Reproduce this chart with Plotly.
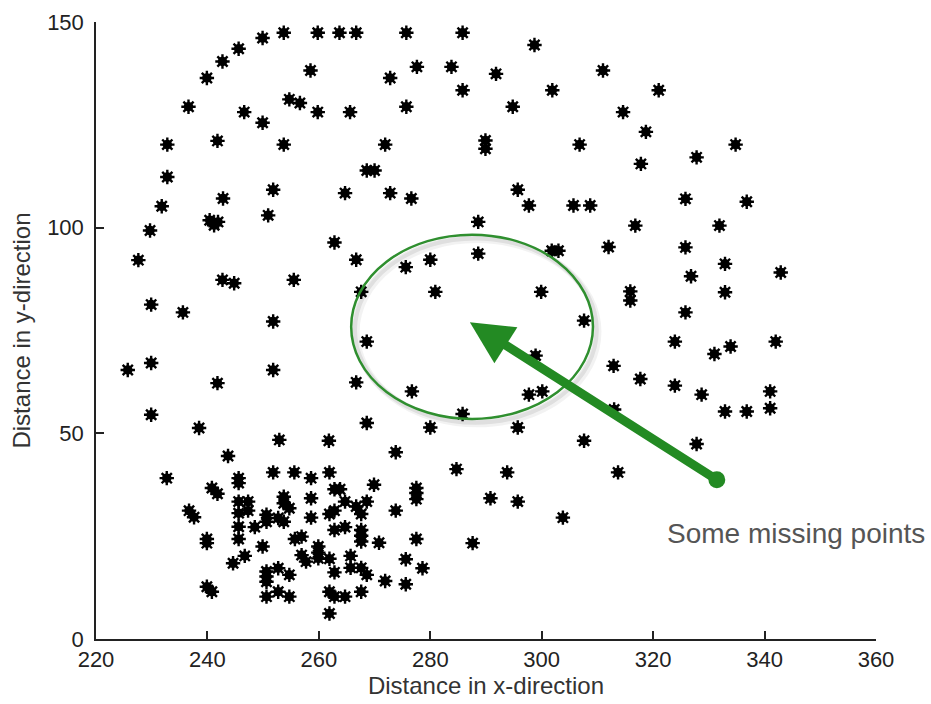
import plotly.graph_objects as go

# Sensor positions (x, y) in distance units
x_pos = [
    229.7, 231.8, 232.8, 232.8, 236.6, 239.9, 242.7, 245.6, 249.9, 253.7,
    259.8, 263.7, 266.7, 275.7, 285.8, 298.7, 258.5, 272.8, 277.6, 283.8,
    291.8, 285.8, 301.9, 311.0, 254.7, 256.6, 259.8, 246.6, 249.9, 265.6,
    275.7, 294.8, 314.6, 241.8, 253.7, 271.9, 289.9, 289.9, 306.8, 321.0,
    318.7, 317.8, 334.8, 327.8, 268.6, 270.0, 251.8, 242.8, 264.7, 272.8,
    276.6, 295.7, 297.7, 305.7, 308.7, 325.8, 336.8, 250.9, 288.6, 316.8,
    331.9, 240.4, 241.2, 241.9,
    262.8, 227.6, 242.7, 244.8, 255.5, 229.9, 235.6, 251.8, 225.7, 229.9,
    251.8, 241.8, 229.9, 238.5, 252.9, 243.7, 266.7, 275.6, 280.0, 288.6,
    301.8, 303.0, 312.0, 267.6, 280.9, 299.9, 307.6, 268.6, 298.9, 312.9,
    266.7, 276.7, 297.7, 300.1, 285.8, 268.6, 280.0, 295.7, 313.0, 261.8,
    273.8, 307.6, 325.8, 332.9, 326.8, 342.9, 315.9, 315.9, 332.9, 325.8,
    323.9, 331.0, 333.9, 342.0, 317.7, 323.9, 328.7, 341.0, 332.9, 336.8,
    341.0, 327.8,
    284.7, 293.8, 313.7, 290.8, 295.7, 303.8, 287.6, 258.6, 261.9, 258.6,
    258.6, 262.8, 263.8, 269.9, 264.7, 268.6, 266.7, 267.6, 261.9, 262.8,
    277.5, 277.5, 277.5, 273.8, 262.8, 264.7, 267.6, 267.6, 267.6, 270.8,
    277.5, 256.9, 255.7, 259.9, 259.9, 259.9, 256.9, 257.7, 261.9, 265.7,
    265.7, 262.8, 267.6, 268.6, 271.9, 275.6, 278.6, 275.6, 261.9, 262.8,
    264.7, 267.6, 261.9, 232.7, 251.8, 255.6, 245.6, 245.6, 240.8, 241.8,
    245.6, 247.3, 247.3, 245.6, 253.7, 253.7, 254.7, 236.7, 237.6, 250.6,
    250.6, 252.7, 253.7, 245.6, 248.5, 245.6, 239.9, 239.9, 249.9, 246.7,
    244.6, 250.6, 250.6, 250.6, 252.7, 254.7, 239.9, 240.8, 250.6, 252.7,
    254.7,
]
y_pos = [
    99.3, 105.2, 112.3, 120.2, 129.4, 136.4, 140.4, 143.5, 146.1, 147.4,
    147.4, 147.4, 147.4, 147.4, 147.4, 144.4, 138.2, 136.4, 139.1, 139.1,
    137.4, 133.4, 133.4, 138.2, 131.2, 130.3, 128.1, 128.1, 125.5, 128.1,
    129.4, 129.4, 128.1, 121.1, 120.2, 120.2, 121.2, 119.2, 120.2, 133.4,
    123.3, 115.5, 120.2, 117.1, 113.9, 113.9, 109.2, 107.1, 108.4, 108.4,
    107.1, 109.2, 105.4, 105.4, 105.4, 107.0, 106.3, 103.0, 101.4, 100.5,
    100.5, 101.8, 100.6, 101.4,
    96.4, 92.1, 87.3, 86.5, 87.3, 81.3, 79.4, 77.2, 65.4, 67.1,
    65.4, 62.2, 54.5, 51.3, 48.4, 44.5, 92.2, 90.4, 92.2, 93.7,
    94.4, 94.4, 95.3, 84.4, 84.4, 84.4, 77.4, 72.3, 68.9, 66.4,
    62.4, 60.2, 59.4, 60.2, 54.7, 52.5, 51.4, 51.4, 55.8, 48.2,
    45.4, 48.2, 95.2, 91.2, 88.2, 89.1, 84.5, 82.3, 84.3, 79.4,
    72.3, 69.3, 71.1, 72.3, 63.2, 61.6, 59.4, 60.2, 55.3, 55.3,
    56.1, 47.4,
    41.3, 40.5, 40.5, 34.2, 33.4, 29.5, 23.3, 39.1, 40.5, 34.2,
    29.5, 36.4, 36.4, 37.5, 33.4, 33.4, 32.2, 30.4, 30.4, 31.2,
    36.7, 35.5, 34.0, 31.2, 26.5, 27.2, 26.5, 25.1, 23.7, 23.4,
    24.3, 24.9, 24.3, 22.5, 21.0, 19.6, 20.4, 18.8, 19.5, 20.2,
    17.3, 16.2, 17.3, 15.6, 14.1, 19.4, 17.2, 13.3, 11.5, 10.3,
    10.3, 11.5, 6.2, 39.1, 40.5, 40.5, 39.1, 37.9, 36.7, 35.3,
    33.4, 33.4, 31.2, 30.6, 34.6, 33.0, 31.8, 31.2, 29.6, 30.2,
    28.5, 29.4, 28.5, 27.3, 27.2, 24.3, 24.3, 23.3, 22.5, 20.2,
    18.4, 16.4, 15.2, 13.9, 17.2, 15.6, 12.7, 11.5, 10.3, 11.5,
    10.3,
]

# Region highlighted as having missing points (centre and half-widths)
gap_center = (287.5, 75.9)
gap_half = (21.7, 22.4)

# Arrow from the label anchor to the gap
arrow_tip = (287.1, 77.0)
arrow_tail = (331.7, 38.5)

x_ticks = [220, 240, 260, 280, 300, 320, 340, 360]
y_ticks = [0, 50, 100, 150]

GREEN = "#238a23"
FONT = "Liberation Sans, Arial, sans-serif"

fig = go.Figure()

# Asterisk-like markers: a filled disc with a spiky outline on top
fig.add_trace(go.Scatter(
    x=x_pos, y=y_pos, mode="markers",
    marker=dict(symbol="circle", size=9.5, color="black", line=dict(width=0)),
    hoverinfo="skip", showlegend=False,
))
fig.add_trace(go.Scatter(
    x=x_pos, y=y_pos, mode="markers",
    marker=dict(symbol="asterisk-open", size=12, color="black",
                line=dict(width=2.4, color="black")),
    showlegend=False,
))

cx, cy = gap_center
hx, hy = gap_half
# soft drop shadow behind the ellipse
for dx, dy, w, a in [(0.9, -1.2, 7, 0.05), (0.6, -0.8, 5, 0.08)]:
    fig.add_shape(type="circle", xref="x", yref="y",
                  x0=cx - hx + dx, x1=cx + hx + dx, y0=cy - hy + dy, y1=cy + hy + dy,
                  line=dict(color=f"rgba(0,0,0,{a})", width=w), layer="above")
fig.add_shape(type="circle", xref="x", yref="y",
              x0=cx - hx, x1=cx + hx, y0=cy - hy, y1=cy + hy,
              line=dict(color="#2f8f2f", width=2.5), layer="above")

fig.add_annotation(
    x=arrow_tip[0], y=arrow_tip[1], ax=arrow_tail[0], ay=arrow_tail[1],
    xref="x", yref="y", axref="x", ayref="y", text="",
    showarrow=True, arrowhead=2, arrowsize=0.95, arrowwidth=9,
    arrowcolor=GREEN, arrowside="end+start", startarrowhead=6,
    startarrowsize=0.47, standoff=0, startstandoff=0,
)
fig.add_annotation(
    x=345.6, y=25.6, xref="x", yref="y", text="Some missing points",
    showarrow=False, xanchor="center", yanchor="middle",
    font=dict(family=FONT, size=28, color="#555555"),
)

axis_common = dict(
    showline=True, linecolor="#222222", linewidth=1.5, mirror=False,
    ticks="inside", ticklen=8, tickwidth=1.5, tickcolor="#222222",
    showgrid=False, zeroline=False,
    tickfont=dict(family=FONT, size=22, color="#222222"),
)
fig.update_xaxes(range=[220, 360], tickvals=x_ticks,
                 title=dict(text="Distance in x-direction", standoff=6,
                            font=dict(family=FONT, size=24, color="#333333")),
                 **axis_common)
fig.update_yaxes(range=[0, 150], tickvals=y_ticks, ticklabelstandoff=6,
                 title=dict(text="Distance in y-direction", standoff=10,
                            font=dict(family=FONT, size=24, color="#333333")),
                 **axis_common)

fig.update_layout(
    width=931, height=704,
    margin=dict(l=96, r=55, t=22, b=65, autoexpand=False),
    paper_bgcolor="white", plot_bgcolor="white",
)

fig.write_html("out.html")
